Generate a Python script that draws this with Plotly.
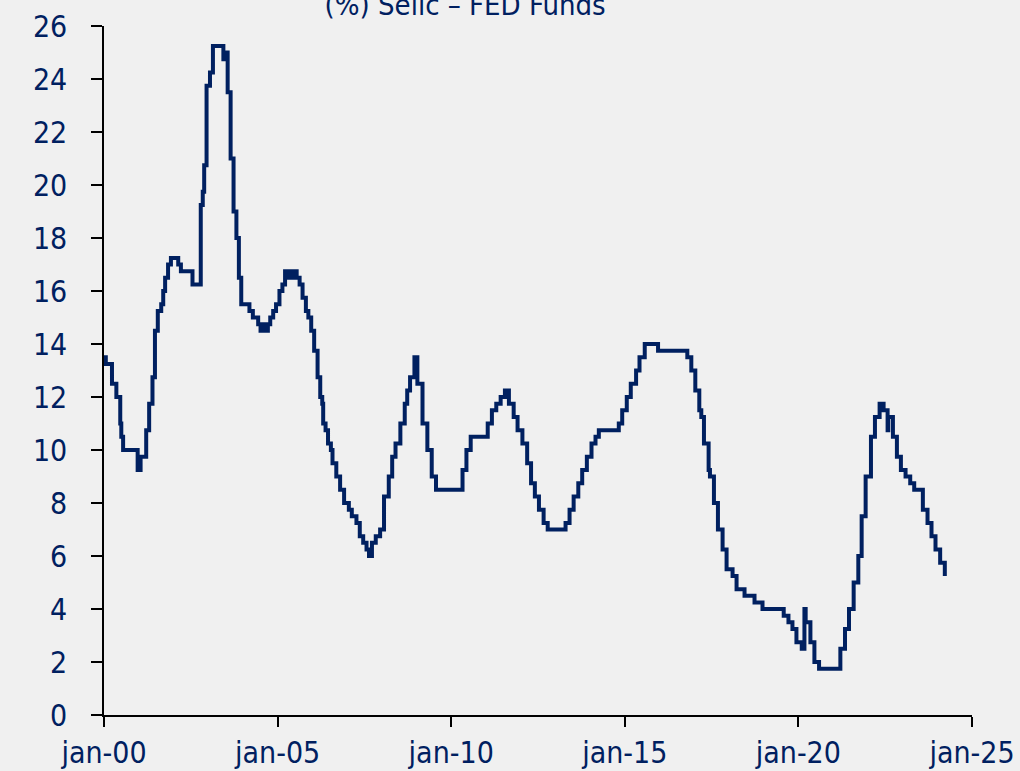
import plotly.graph_objects as go

# Step breakpoints of the Selic – Fed Funds spread (%)
change_dates = [
    "2000-01-01", "2000-01-20", "2000-03-25", "2000-05-10", "2000-06-20", "2000-07-01", "2000-07-20",
    "2000-12-20", "2001-01-20", "2001-03-20", "2001-04-20", "2001-05-25", "2001-06-20", "2001-07-20",
    "2001-08-25", "2001-09-15", "2001-10-05", "2001-11-05", "2001-12-05", "2002-02-20", "2002-03-20",
    "2002-07-20", "2002-10-15", "2002-11-05", "2002-11-20", "2002-12-15", "2003-01-20", "2003-02-20",
    "2003-06-10", "2003-06-25", "2003-07-25", "2003-08-25", "2003-09-25", "2003-10-25", "2003-11-20",
    "2003-12-15", "2004-03-10", "2004-04-15", "2004-06-10", "2004-07-05", "2004-08-10", "2004-08-20",
    "2004-09-20", "2004-10-15", "2004-11-15", "2004-12-15", "2005-01-20", "2005-02-20", "2005-03-20",
    "2005-04-15", "2005-05-05", "2005-06-10", "2005-06-25", "2005-07-20", "2005-08-20", "2005-09-20",
    "2005-10-25", "2005-11-20", "2005-12-20", "2006-01-20", "2006-02-25", "2006-03-25", "2006-04-15",
    "2006-04-25", "2006-05-20", "2006-06-15", "2006-07-15", "2006-08-01", "2006-09-10", "2006-10-20",
    "2006-12-01", "2007-01-20", "2007-02-20", "2007-04-10", "2007-05-15", "2007-06-20", "2007-07-25",
    "2007-08-20", "2007-09-20", "2007-10-30", "2007-12-15", "2008-01-25", "2008-03-15", "2008-04-20",
    "2008-05-25", "2008-07-15", "2008-08-30", "2008-09-25", "2008-10-25", "2008-12-10", "2009-01-10",
    "2009-03-05", "2009-04-25", "2009-06-10", "2009-07-25", "2010-04-30", "2010-06-10", "2010-07-25",
    "2011-01-20", "2011-03-05", "2011-04-20", "2011-06-05", "2011-07-20", "2011-08-31", "2011-10-20",
    "2011-11-30", "2012-01-20", "2012-03-10", "2012-04-20", "2012-05-30", "2012-07-12", "2012-08-30",
    "2012-10-12", "2013-04-18", "2013-05-30", "2013-07-12", "2013-08-30", "2013-10-10", "2013-11-28",
    "2014-01-16", "2014-02-27", "2014-04-03", "2014-10-30", "2014-12-05", "2015-01-22", "2015-03-05",
    "2015-04-30", "2015-06-05", "2015-07-30", "2015-12-17", "2016-10-20", "2016-12-01", "2017-01-12",
    "2017-02-23", "2017-03-16", "2017-04-13", "2017-06-01", "2017-06-15", "2017-07-27", "2017-09-07",
    "2017-10-26", "2017-12-07", "2018-02-08", "2018-03-22", "2018-06-14", "2018-09-27", "2018-12-20",
    "2019-07-31", "2019-09-19", "2019-10-31", "2019-12-12", "2020-02-06", "2020-03-05", "2020-03-18",
    "2020-05-07", "2020-06-18", "2020-08-06", "2021-03-18", "2021-05-06", "2021-06-17", "2021-08-05",
    "2021-09-23", "2021-10-28", "2021-12-09", "2022-02-03", "2022-03-17", "2022-05-05", "2022-06-16",
    "2022-07-28", "2022-08-04", "2022-09-22", "2022-11-03", "2022-12-15", "2023-02-02", "2023-03-23",
    "2023-05-04", "2023-08-03", "2023-09-21", "2023-11-02", "2023-12-14", "2024-02-01", "2024-03-21",
]
spread = [
    13.5, 13.25, 12.5, 12.0, 11.0, 10.5, 10.0,
    9.25, 9.75, 10.75, 11.75, 12.75, 14.5, 15.25,
    15.5, 16.0, 16.5, 17.0, 17.25, 17.0, 16.75,
    16.25, 19.25, 19.75, 20.75, 23.75, 24.25, 25.25,
    24.75, 25.0, 23.5, 21.0, 19.0, 18.0, 16.5,
    15.5, 15.25, 15.0, 14.75, 14.5, 14.75, 14.5,
    14.75, 15.0, 15.25, 15.5, 16.0, 16.25, 16.75,
    16.5, 16.75, 16.5, 16.75, 16.5, 16.25, 15.75,
    15.25, 15.0, 14.5, 13.75, 12.75, 12.0, 11.75,
    11.0, 10.75, 10.25, 10.0, 9.5, 9.0, 8.5,
    8.0, 7.75, 7.5, 7.25, 6.75, 6.5, 6.25,
    6.0, 6.5, 6.75, 7.0, 8.25, 9.0, 9.75,
    10.25, 11.0, 11.75, 12.25, 12.75, 13.5, 12.5,
    11.0, 10.0, 9.0, 8.5, 9.25, 10.0, 10.5,
    11.0, 11.5, 11.75, 12.0, 12.25, 11.75, 11.25,
    10.75, 10.25, 9.5, 8.75, 8.25, 7.75, 7.25,
    7.0, 7.25, 7.75, 8.25, 8.75, 9.25, 9.75,
    10.25, 10.5, 10.75, 11.0, 11.5, 12.0, 12.5,
    13.0, 13.5, 14.0, 13.75, 13.5, 13.0, 12.25,
    11.5, 11.25, 10.25, 9.25, 9.0, 8.0, 7.0,
    6.25, 5.5, 5.25, 4.75, 4.5, 4.25, 4.0,
    3.75, 3.5, 3.25, 2.75, 2.5, 4.0, 3.5,
    2.75, 2.0, 1.75, 2.5, 3.25, 4.0, 5.0,
    6.0, 7.5, 9.0, 10.5, 11.25, 11.75, 11.5,
    10.75, 11.25, 10.5, 9.75, 9.25, 9.0, 8.75,
    8.5, 7.75, 7.25, 6.75, 6.25, 5.75, 5.25,
]

x_tick_dates = ["2000-01-01", "2005-01-01", "2010-01-01", "2015-01-01", "2020-01-01", "2025-01-01"]
x_tick_labels = ["jan-00", "jan-05", "jan-10", "jan-15", "jan-20", "jan-25"]
y_ticks = list(range(0, 27, 2))

title_text = "(%) Selic – FED Funds"

navy = "#002060"
bg = "#f0f0f0"
font_family = "Liberation Sans Narrow, DejaVu Sans Condensed, sans-serif"

fig = go.Figure()
fig.add_trace(go.Scatter(
    x=change_dates, y=spread, mode="lines",
    line=dict(color=navy, width=4, shape="hv"),
    showlegend=False, hoverinfo="skip",
))

fig.update_layout(
    width=1020, height=771,
    paper_bgcolor=bg, plot_bgcolor=bg,
    margin=dict(l=104, r=48, t=26, b=56, autoexpand=False),
    font=dict(family=font_family, size=30, color=navy),
    title=dict(text=title_text, x=0.456, xanchor="center", xref="container",
               y=0.9935, yref="container", yanchor="middle",
               font=dict(family=font_family, size=29, color=navy)),
    xaxis=dict(
        type="date", range=["2000-01-01", "2025-01-01"],
        tickvals=x_tick_dates, ticktext=x_tick_labels,
        ticks="outside", ticklen=10, tickwidth=1.5, tickcolor="black",
        showline=True, linecolor="black", linewidth=1.5,
        showgrid=False, zeroline=False, automargin=False,
        ticklabelstandoff=0,
    ),
    yaxis=dict(
        range=[0, 26], tickvals=y_ticks,
        ticks="outside", ticklen=11, tickwidth=1.5, tickcolor="black",
        showline=True, linecolor="black", linewidth=1.5,
        showgrid=False, zeroline=False, automargin=False,
        ticklabelstandoff=18,
    ),
)

page_style = (
    "document.body.style.margin='0';"
    "document.body.style.overflow='hidden';"
    "document.body.style.background='" + bg + "';"
)

fig.write_html("out.html", post_script=page_style, config={"displayModeBar": False})
